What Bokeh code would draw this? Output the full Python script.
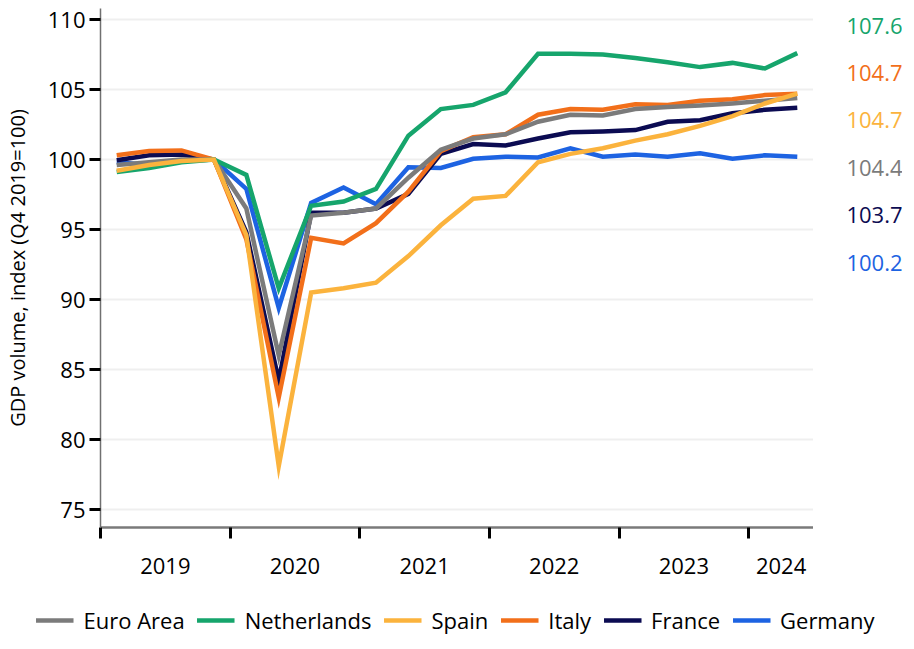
from bokeh.plotting import figure
from bokeh.models import FixedTicker, Legend, LegendItem, Range1d
from bokeh.layouts import row, column
from bokeh.core.properties import value
from bokeh.embed import file_html
from bokeh.resources import INLINE

# ---- data (quarterly, Q1 2019 .. Q2 2024; index Q4 2019 = 100) ----
years = ["2019", "2020", "2021", "2022", "2023", "2024"]
quarters_per_year = [4, 4, 4, 4, 4, 2]

euro_area = [99.6, 99.8, 100.0, 100.0, 96.5, 86.0, 96.0, 96.2, 96.5, 98.7, 100.7,
             101.5, 101.8, 102.7, 103.2, 103.15, 103.6, 103.75, 103.85, 104.0, 104.2, 104.4]
netherlands = [99.1, 99.4, 99.8, 100.0, 98.9, 90.8, 96.7, 97.0, 97.9, 101.7, 103.6,
               103.9, 104.8, 107.55, 107.55, 107.5, 107.25, 106.95, 106.6, 106.9, 106.5, 107.6]
spain = [99.2, 99.6, 99.9, 100.0, 94.6, 78.1, 90.5, 90.8, 91.2, 93.1, 95.3,
         97.2, 97.4, 99.8, 100.4, 100.8, 101.35, 101.8, 102.4, 103.1, 104.0, 104.7]
italy = [100.3, 100.6, 100.65, 100.0, 94.3, 83.0, 94.4, 94.0, 95.45, 97.7, 100.6,
         101.6, 101.8, 103.2, 103.6, 103.55, 103.95, 103.9, 104.2, 104.3, 104.6, 104.7]
france = [99.95, 100.3, 100.35, 100.0, 94.8, 84.2, 96.2, 96.2, 96.5, 97.55, 100.4,
          101.1, 101.0, 101.5, 101.95, 102.0, 102.1, 102.7, 102.8, 103.3, 103.55, 103.7]
germany = [99.8, 99.6, 99.9, 100.0, 97.9, 89.4, 96.9, 98.0, 96.8, 99.45, 99.4,
           100.05, 100.2, 100.15, 100.8, 100.2, 100.35, 100.2, 100.45, 100.05, 100.3, 100.2]

series_names = ["Euro Area", "Netherlands", "Spain", "Italy", "France", "Germany"]
series_values = [euro_area, netherlands, spain, italy, france, germany]
series_colors = ["#7b7b7b", "#16a56c", "#fbb33d", "#f26f1a", "#0b0b52", "#1d63e2"]

y_ticks = [75, 80, 85, 90, 95, 100, 105, 110]
axis_title = "GDP volume, index (Q4 2019=100)"

# order of the value labels on the right (top to bottom)
label_order = ["Netherlands", "Italy", "Spain", "Euro Area", "France", "Germany"]
# drawing order (bottom to top)
draw_order = ["Germany", "France", "Italy", "Euro Area", "Netherlands", "Spain"]

FONT = "Open Sans"
LW = 4.5
n = len(euro_area)
xs = [i + 0.5 for i in range(n)]

# year boundaries and centres
bounds = [0]
for q in quarters_per_year:
    bounds.append(bounds[-1] + q)
year_centers = [(bounds[i] + bounds[i + 1]) / 2 for i in range(len(years))]

FRAME_W, FRAME_H = 713, 519
TOP, LEFT, BOTTOM = 8, 96, 70
px_per_unit = 14.0
yr = Range1d(75 - 18 / px_per_unit, 110 + 11 / px_per_unit)

p = figure(frame_width=FRAME_W, frame_height=FRAME_H, x_range=(0, n), y_range=yr,
           output_backend="svg", toolbar_location=None,
           min_border_left=LEFT, min_border_right=0, min_border_top=TOP,
           min_border_bottom=BOTTOM)
p.outline_line_color = None
p.xgrid.visible = False
p.ygrid.grid_line_color = "#efefef"
p.ygrid.grid_line_width = 2

# y axis
p.yaxis.ticker = FixedTicker(ticks=y_ticks)
p.yaxis.major_tick_out = 11
p.yaxis.major_tick_in = 0
p.yaxis.major_tick_line_width = 3
p.yaxis.major_tick_line_color = "black"
p.yaxis.minor_tick_line_color = None
p.yaxis.axis_line_color = "#707070"
p.yaxis.axis_line_width = 1.5
p.yaxis.major_label_text_font = FONT
p.yaxis.major_label_text_font_size = "22px"
p.yaxis.major_label_text_color = "black"
p.yaxis.major_label_standoff = 4
p.yaxis.axis_label = axis_title
p.yaxis.axis_label_text_font = FONT
p.yaxis.axis_label_text_font_size = "20px"
p.yaxis.axis_label_text_font_style = "normal"
p.yaxis.axis_label_text_color = "black"
p.yaxis.axis_label_standoff = 14

# x axis: year labels centred, boundary ticks as minor ticks
p.xaxis.ticker = FixedTicker(ticks=year_centers, minor_ticks=bounds[:-1])
p.xaxis.major_label_overrides = {c: y for c, y in zip(year_centers, years)}
p.xaxis.major_tick_out = 0
p.xaxis.major_tick_in = 0
p.xaxis.major_tick_line_color = None
p.xaxis.minor_tick_out = 11
p.xaxis.minor_tick_in = 0
p.xaxis.minor_tick_line_width = 3
p.xaxis.minor_tick_line_color = "black"
p.xaxis.axis_line_color = "#7a7a7a"
p.xaxis.axis_line_width = 2.5
p.xaxis.major_label_text_font = FONT
p.xaxis.major_label_text_font_size = "22px"
p.xaxis.major_label_text_color = "black"
p.xaxis.major_label_standoff = 19

for name in draw_order:
    k = series_names.index(name)
    p.line(xs, series_values[k], line_width=LW, line_color=series_colors[k],
           line_join="miter")

# ---- value labels at the right (separate narrow panel sharing the y range) ----
LAB_W = 89
p_lab = figure(frame_width=LAB_W, frame_height=FRAME_H, x_range=(0, LAB_W), y_range=yr,
               output_backend="svg", toolbar_location=None,
               min_border_left=0, min_border_right=0, min_border_top=TOP,
               min_border_bottom=BOTTOM)
p_lab.axis.visible = False
p_lab.grid.visible = False
p_lab.outline_line_color = None
label_top = 110 - 6 / px_per_unit
label_step = 47.4 / px_per_unit
lab_text, lab_y, lab_col = [], [], []
for j, nm in enumerate(label_order):
    k = series_names.index(nm)
    lab_text.append(f"{series_values[k][-1]:.1f}")
    lab_y.append(label_top - j * label_step)
    lab_col.append(series_colors[k])
p_lab.text(x=[61] * len(lab_text), y=lab_y, text=lab_text, text_color=lab_col,
           text_font=value(FONT), text_font_size="22px", text_align="center",
           text_baseline="middle")

# ---- legend panel (lines drawn outside its visible range, only used as legend keys) ----
p_leg = figure(width=LEFT + FRAME_W + LAB_W, height=46, x_range=(0, 1), y_range=(0, 1),
               output_backend="svg", toolbar_location=None, min_border=0,
               min_border_left=12)
p_leg.axis.visible = False
p_leg.grid.visible = False
p_leg.outline_line_color = None
items = []
for k, nm in enumerate(series_names):
    r = p_leg.line(xs[:2], series_values[k][:2], line_width=LW, line_color=series_colors[k])
    items.append(LegendItem(label=nm, renderers=[r]))
legend = Legend(items=items, orientation="horizontal", location="center",
                glyph_width=38, glyph_height=20, label_standoff=10, spacing=12,
                padding=0, margin=0, border_line_color=None,
                background_fill_alpha=0,
                label_text_font=FONT, label_text_font_size="22px",
                label_text_color="black")
p_leg.add_layout(legend, "center")

layout = column(row(p, p_lab), p_leg)
open("out.html", "w").write(file_html(layout, INLINE))
